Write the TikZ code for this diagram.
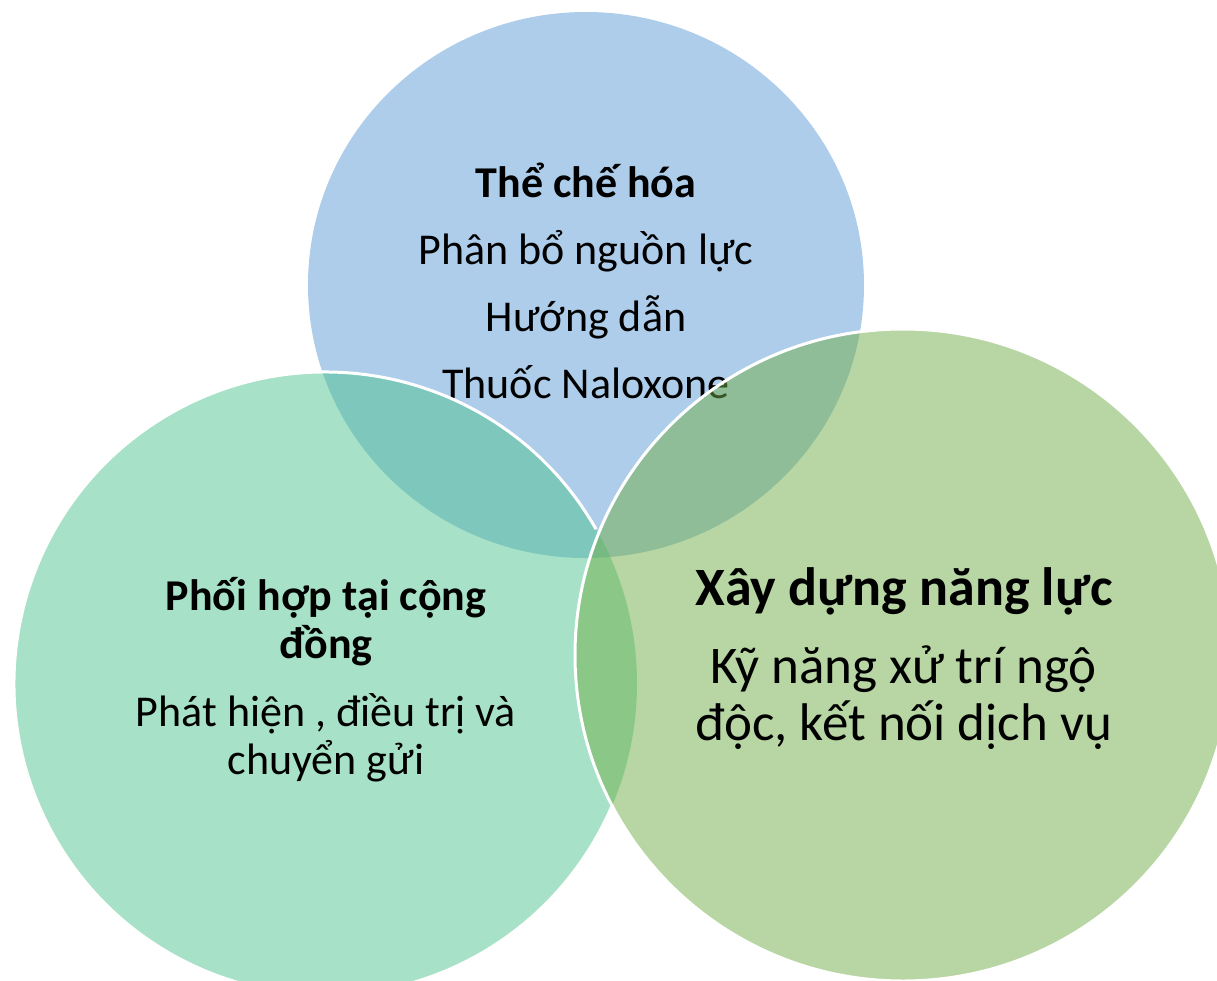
\documentclass[tikz,border=0pt]{standalone}
\usepackage{fontspec}
\setmainfont{Carlito}
\usepackage{tikz}
\usetikzlibrary{positioning}

\definecolor{vennBlue}{HTML}{5B9BD5}
\definecolor{vennTeal}{RGB}{79,195,143}
\definecolor{vennGreen}{HTML}{70AD47}

\tikzset{
	disc/.style={fill opacity=0.5},
	rim/.style={draw=white, line width=1.5pt},
	label/.style={align=center, inner sep=0pt, anchor=base, text=black},
}

\begin{document}
\begin{tikzpicture}[x=0.5pt, y=-0.5pt]

	% ------------------------------------------------
	% Page size of the picture
	\clip (0,0) rectangle (1217,981);

	% ------------------------------------------------
	% Centres of the three circles
	\coordinate (TopC)   at (586,285);
	\coordinate (LeftC)  at (325.5,683.5);
	\coordinate (RightC) at (903,655);

	% ----------------
	% Top circle (base of a text = its last line)
	\fill[vennBlue, disc] (TopC) ellipse [x radius=278, y radius=273];

	\node[label, font=\fontsize{22}{26}\selectfont\bfseries] (TopTitle) at (586,197) {Thể chế hóa};
	\node[label, font=\fontsize{22}{33.5}\selectfont] (TopBody) at (586,398)
		{Phân bổ nguồn lực\\Hướng dẫn\\Thuốc Naloxone};

	% ----------------
	% Left circle
	\fill[vennTeal, disc] (LeftC) circle [radius=311.5];
	\draw[rim] (LeftC) ++(-29.7:311.5)
		arc [start angle=-29.7, end angle=-337, radius=311.5];

	\node[label, font=\fontsize{22}{24}\selectfont\bfseries] (LeftTitle) at (326,658)
		{Phối hợp tại cộng\\đồng};
	\node[label, font=\fontsize{22}{24}\selectfont] (LeftBody) at (326,774)
		{Phát hiện , điều trị và\\chuyển gửi};

	% ----------------
	% Right circle
	\fill[vennGreen, disc] (RightC) ellipse [x radius=328, y radius=326];
	\draw[rim] (RightC) ellipse [x radius=328, y radius=326];

	\node[label, font=\fontsize{27}{30}\selectfont\bfseries] (RightTitle) at (904,605) {Xây dựng năng lực};
	\node[label, font=\fontsize{26.5}{28.5}\selectfont] (RightBody) at (903.5,740)
		{Kỹ năng xử trí ngộ\\độc, kết nối dịch vụ};

\end{tikzpicture}
\end{document}
